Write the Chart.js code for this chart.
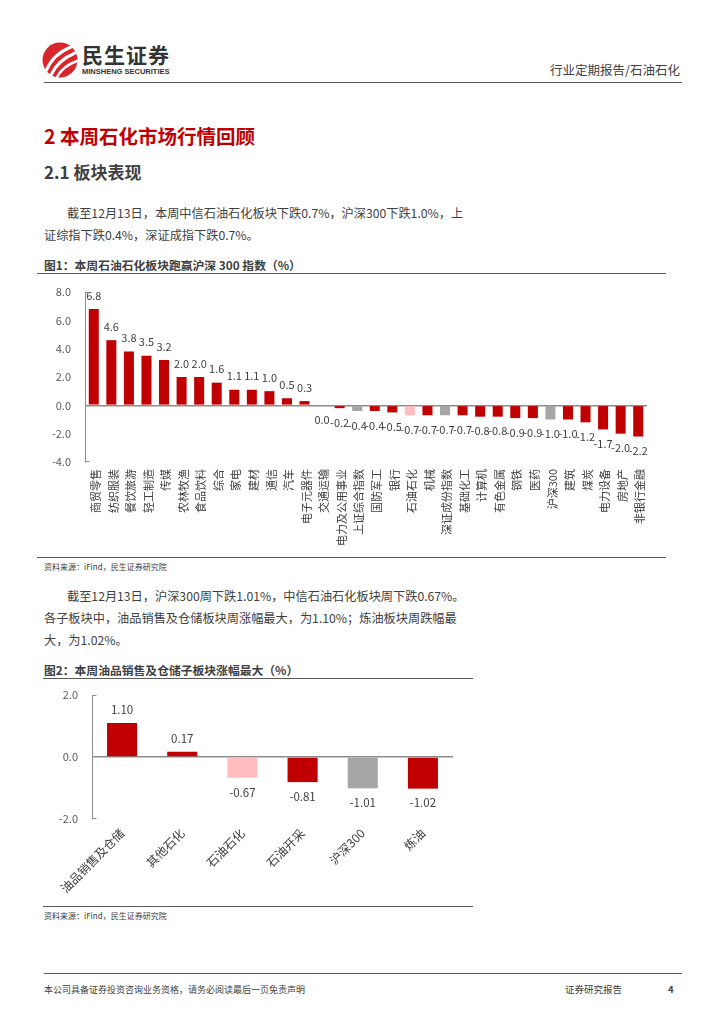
<!DOCTYPE html>
<html>
<head>
<meta charset="utf-8">
<script src="https://cdn.jsdelivr.net/npm/chart.js@4.4.1/dist/chart.umd.min.js"></script>
<style>
  body { margin: 0; background: #fff; }
  #page { position: relative; width: 724px; height: 1024px; overflow: hidden; font-family: "Noto Sans CJK SC", "Noto Sans", sans-serif; color: #404040; }
  .t { position: absolute; white-space: nowrap; line-height: 1; }
  .rule { position: absolute; height: 0; border-top: 1.5px solid #595959; }
</style>
</head>
<body>
<div id="page">
  <!-- header -->
  <svg class="t" style="left:41px;top:41px;" width="38" height="38" viewBox="41 41 38 38">
    <circle cx="60" cy="60" r="17.5" fill="#d9262c"/>
    <path d="M46 71 Q53 54 71 47" stroke="#fff" stroke-width="3" fill="none" stroke-linecap="round"/>
    <path d="M51 75 Q58 60 75 53" stroke="#fff" stroke-width="3" fill="none" stroke-linecap="round"/>
    <path d="M57 77 Q63 66 77 61" stroke="#fff" stroke-width="2.5" fill="none" stroke-linecap="round"/>
  </svg>
  <div class="t" style="left:82px;top:44px;font-size:21px;font-weight:bold;color:#333;letter-spacing:1px;">民生证券</div>
  <div class="t" style="left:82px;top:68px;font-size:7.5px;font-weight:bold;color:#333;font-family:'Liberation Sans Narrow','Liberation Sans',sans-serif;">MINSHENG SECURITIES</div>
  <div class="t" style="right:44px;top:64px;font-size:12.5px;color:#404040;">行业定期报告/石油石化</div>
  <div class="rule" style="left:44px;top:82px;width:638px;"></div>

  <div class="t" style="left:44px;top:126px;font-size:19.5px;font-weight:bold;color:#c00000;">2 本周石化市场行情回顾</div>
  <div class="t" style="left:44px;top:163px;font-size:17px;font-weight:bold;color:#404040;">2.1 板块表现</div>
  <div class="t" style="left:67px;top:207px;font-size:12.2px;">截至12月13日，本周中信石油石化板块下跌0.7%，沪深300下跌1.0%，上</div>
  <div class="t" style="left:44px;top:229px;font-size:12.2px;">证综指下跌0.4%，深证成指下跌0.7%。</div>

  <div class="t" style="left:44px;top:259px;font-size:11.8px;font-weight:bold;">图1：本周石油石化板块跑赢沪深 300 指数（%）</div>
  <div class="rule" style="left:37px;top:273px;width:629px;"></div>
  <canvas id="sectorChart" style="position:absolute;left:40px;top:282px;"></canvas>
  <div class="rule" style="left:37px;top:557px;width:629px;"></div>
  <div class="t" style="left:44px;top:563px;font-size:8px;">资料来源：iFind，民生证券研究院</div>

  <div class="t" style="left:67px;top:590px;font-size:12.2px;">截至12月13日，沪深300周下跌1.01%，中信石油石化板块周下跌0.67%。</div>
  <div class="t" style="left:44px;top:612px;font-size:12.2px;">各子板块中，油品销售及仓储板块周涨幅最大，为1.10%；炼油板块周跌幅最</div>
  <div class="t" style="left:44px;top:634px;font-size:12.2px;">大，为1.02%。</div>

  <div class="t" style="left:44px;top:664px;font-size:11.8px;font-weight:bold;">图2：本周油品销售及仓储子板块涨幅最大（%）</div>
  <div class="rule" style="left:43px;top:678px;width:430px;"></div>
  <canvas id="subChart" style="position:absolute;left:40px;top:685px;"></canvas>
  <div class="rule" style="left:43px;top:906px;width:430px;"></div>
  <div class="t" style="left:44px;top:912px;font-size:8px;">资料来源：iFind，民生证券研究院</div>

  <!-- footer -->
  <div class="rule" style="left:44px;top:973px;width:638px;"></div>
  <div class="t" style="left:44px;top:985px;font-size:9px;">本公司具备证券投资咨询业务资格，请务必阅读最后一页免责声明</div>
  <div class="t" style="left:565px;top:985px;font-size:9.5px;">证券研究报告</div>
  <div class="t" style="left:668px;top:985px;font-size:9.5px;font-weight:bold;">4</div>
</div>

<script>
// figure 1: weekly change by sector (%)
const sectorNames = ['商贸零售', '纺织服装', '餐饮旅游', '轻工制造', '传媒', '农林牧渔', '食品饮料', '综合',
  '家电', '建材', '通信', '汽车', '电子元器件', '交通运输', '电力及公用事业', '上证综合指数', '国防军工',
  '银行', '石油石化', '机械', '深证成份指数', '基础化工', '计算机', '有色金属', '钢铁', '医药', '沪深300',
  '建筑', '煤炭', '电力设备', '房地产', '非银行金融'];
const sectorChanges = [6.8, 4.6, 3.8, 3.5, 3.2, 2.0, 2.0, 1.6, 1.1, 1.1, 1.0, 0.5, 0.3, 0.0, -0.2, -0.4, -0.4,
  -0.5, -0.7, -0.7, -0.7, -0.7, -0.8, -0.8, -0.9, -0.9, -1.0, -1.0, -1.2, -1.7, -2.0, -2.2];
const sectorTicks = [-4, -2, 0, 2, 4, 6, 8];

// figure 2: petrochemical sub-sectors (%)
const subNames = ['油品销售及仓储', '其他石化', '石油石化', '石油开采', '沪深300', '炼油'];
const subChanges = [1.10, 0.17, -0.67, -0.81, -1.01, -1.02];
const subTicks = [-2, 0, 2];

const indexNames = ['上证综合指数', '深证成份指数', '沪深300'];
const focusName = '石油石化';

const RED = '#c00000';
const GREY = '#a6a6a6';
const PINK = '#ffbdbd';
const FONT = '"Noto Sans CJK SC", "Noto Sans", sans-serif';

function barColor(name) {
    if (indexNames.includes(name)) return GREY;
    if (name === focusName) return PINK;
    return RED;
}

const valueLabels = {
    id: 'valueLabels',
    afterDatasetsDraw(chart, args, opts) {
        const ctx = chart.ctx;
        const data = chart.data.datasets[0].data;
        ctx.save();
        ctx.font = opts.size + 'px ' + FONT;
        ctx.fillStyle = '#404040';
        ctx.textAlign = 'center';
        ctx.textBaseline = 'middle';
        chart.getDatasetMeta(0).data.forEach((bar, i) => {
            const v = data[i];
            const y = v > 0 ? bar.y - opts.up : bar.y + opts.down;
            ctx.fillText(v.toFixed(opts.digits), bar.x, y);
        });
        ctx.restore();
    }
};

// small caps at both ends of the value axis
const axisCaps = {
    id: 'axisCaps',
    afterDraw(chart) {
        const y = chart.scales.y;
        const ctx = chart.ctx;
        const x0 = Math.round(y.right) + 0.5;
        ctx.save();
        ctx.strokeStyle = '#8c8c8c';
        ctx.lineWidth = 1;
        ctx.beginPath();
        ctx.moveTo(x0, Math.round(y.top) + 0.5);
        ctx.lineTo(x0 + 4, Math.round(y.top) + 0.5);
        ctx.moveTo(x0, Math.round(y.bottom) - 0.5);
        ctx.lineTo(x0 + 4, Math.round(y.bottom) - 0.5);
        ctx.stroke();
        ctx.restore();
    }
};

function makeChart(id, w, h, names, values, ticks, opt) {
    const canvas = document.getElementById(id);
    canvas.width = w;
    canvas.height = h;
    canvas.style.width = w + 'px';
    canvas.style.height = h + 'px';
    return new Chart(canvas.getContext('2d'), {
        type: 'bar',
        data: {
            labels: names,
            datasets: [{
                data: values,
                backgroundColor: names.map(barColor),
                barPercentage: opt.barPct,
                categoryPercentage: 1
            }]
        },
        options: {
            responsive: false,
            animation: false,
            devicePixelRatio: 1,
            layout: { padding: { top: 10, right: opt.right, left: 0, bottom: 0 } },
            plugins: {
                legend: { display: false },
                tooltip: { enabled: false },
                valueLabels: { size: opt.labelSize, digits: opt.digits, up: opt.up, down: opt.down }
            },
            scales: {
                x: {
                    grid: { display: false, drawTicks: false },
                    border: { display: false },
                    ticks: {
                        autoSkip: false,
                        minRotation: opt.rotation,
                        maxRotation: opt.rotation,
                        padding: opt.xPad,
                        labelOffset: opt.xShift,
                        color: '#404040',
                        font: { size: opt.xSize, family: FONT }
                    },
                    afterFit: s => { s.height = opt.xHeight; s.paddingLeft = 0; s.paddingRight = 0; }
                },
                y: {
                    min: ticks[0],
                    max: ticks[ticks.length - 1],
                    afterBuildTicks: s => { s.ticks = ticks.map(v => ({ value: v })); },
                    ticks: {
                        padding: 14,
                        color: '#595959',
                        font: { size: 11, family: FONT },
                        callback: v => Number(v).toFixed(1)
                    },
                    grid: {
                        drawTicks: false,
                        lineWidth: 1.5,
                        color: c => (c.tick && c.tick.value === 0 ? '#8c8c8c' : 'rgba(0,0,0,0)')
                    },
                    border: { display: true, color: '#8c8c8c', width: 1 },
                    afterFit: s => { s.width = opt.yWidth; s.paddingTop = 0; s.paddingBottom = 0; }
                }
            }
        },
        plugins: [valueLabels, axisCaps]
    });
}

function main() {
    makeChart('sectorChart', 620, 272, sectorNames, sectorChanges, sectorTicks, {
        barPct: 0.57, right: 13, yWidth: 45, xHeight: 92, rotation: 90, xPad: 7, xShift: 2, xSize: 11,
        labelSize: 11, digits: 1, up: 13.5, down: 14.5
    });
    makeChart('subChart', 430, 215, subNames, subChanges, subTicks, {
        barPct: 0.5, right: 17, yWidth: 52, xHeight: 81, rotation: 45, xPad: 7, xShift: 0, xSize: 12,
        labelSize: 11.5, digits: 2, up: 13, down: 14.5
    });
}

main();
</script>
</body>
</html>
